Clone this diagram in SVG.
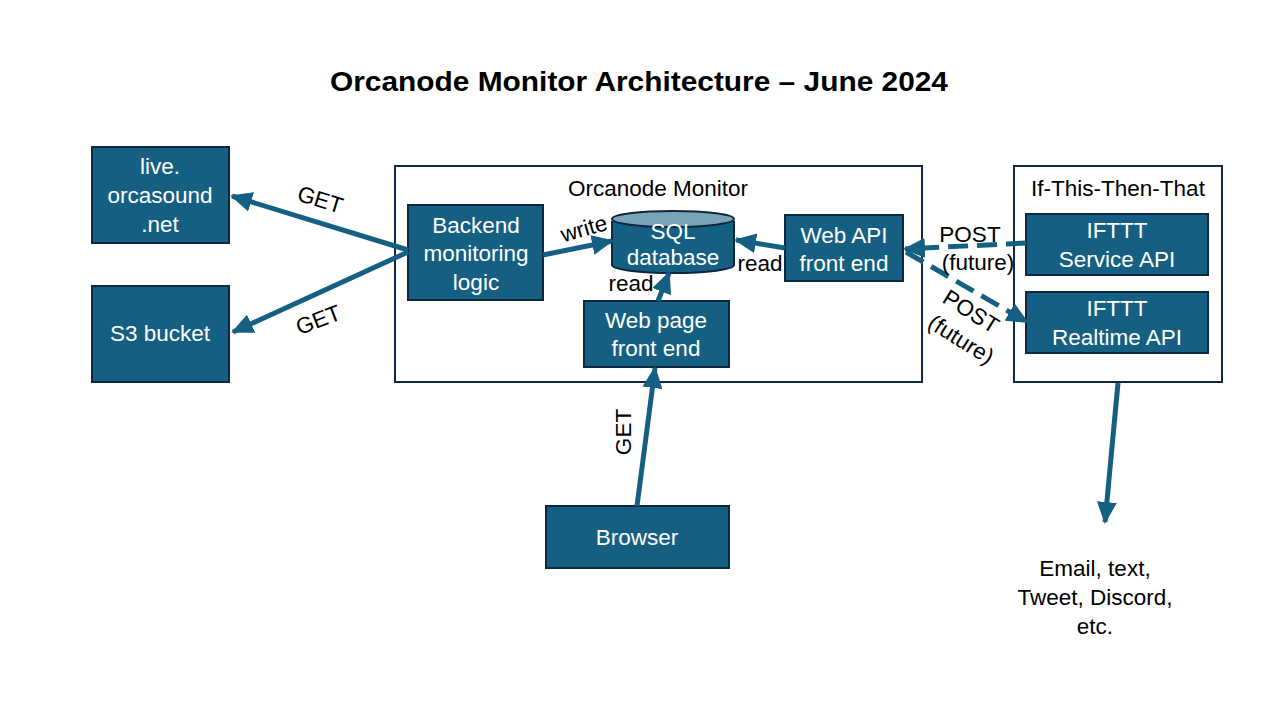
<svg xmlns="http://www.w3.org/2000/svg" width="1280" height="720" viewBox="0 0 1280 720">
<style>
.box{fill:#156082;stroke:#0E2841;stroke-width:2}
.frame{fill:#fff;stroke:#0E2841;stroke-width:2}
.t{font-family:"Liberation Sans",Arial,sans-serif;font-size:22.5px;fill:#fff;text-anchor:middle}
.lbl{font-family:"Liberation Sans",Arial,sans-serif;font-size:22.5px;fill:#000;text-anchor:middle}
.c{stroke:#156082;stroke-width:5;fill:none}
.d{stroke-dasharray:20 9}
</style>
<defs>
<marker id="ah" markerUnits="userSpaceOnUse" markerWidth="22" markerHeight="20" refX="20" refY="10" orient="auto">
<path d="M0,0 L22,10 L0,20 Z" fill="#156082"/>
</marker>
</defs>
<rect width="1280" height="720" fill="#fff"/>
<text x="639" y="91" font-family="Liberation Sans,Arial,sans-serif" font-size="28" font-weight="bold" text-anchor="middle" fill="#000" textLength="618" lengthAdjust="spacingAndGlyphs">Orcanode Monitor Architecture – June 2024</text>

<g id="orcanode-monitor">
<rect class="frame" x="395" y="166" width="527" height="216"/>
<text class="lbl" x="658" y="196">Orcanode Monitor</text>
</g>
<g id="ifttt">
<rect class="frame" x="1014" y="166" width="208" height="216"/>
<text class="lbl" x="1118" y="196">If-This-Then-That</text>
</g>

<g id="live">
<rect class="box" x="92" y="147" width="137" height="96"/>
<text class="t" x="160" y="174">live.</text>
<text class="t" x="160" y="203">orcasound</text>
<text class="t" x="160" y="232">.net</text>
</g>
<g id="s3">
<rect class="box" x="92" y="286" width="137" height="96"/>
<text class="t" x="160" y="341">S3 bucket</text>
</g>
<g id="backend">
<rect class="box" x="408" y="205" width="135" height="95"/>
<text class="t" x="476" y="233">Backend</text>
<text class="t" x="476" y="261">monitoring</text>
<text class="t" x="476" y="290">logic</text>
</g>
<g id="sql">
<path d="M612,221 L612,265 A61,8 0 0 0 734,265 L734,221" fill="#156082" stroke="#0E2841" stroke-width="2"/>
<ellipse cx="673" cy="219" rx="61" ry="8" fill="#79A3B6" stroke="#0E2841" stroke-width="2"/>
<text class="t" x="673" y="239">SQL</text>
<text class="t" x="673" y="265">database</text>
</g>
<g id="webapi">
<rect class="box" x="785" y="215" width="118" height="66"/>
<text class="t" x="844" y="243">Web API</text>
<text class="t" x="844" y="271">front end</text>
</g>
<g id="webpage">
<rect class="box" x="584" y="301" width="145" height="66"/>
<text class="t" x="656" y="328">Web page</text>
<text class="t" x="656" y="356">front end</text>
</g>
<g id="service">
<rect class="box" x="1026" y="214" width="182" height="61"/>
<text class="t" x="1117" y="238">IFTTT</text>
<text class="t" x="1117" y="267">Service API</text>
</g>
<g id="realtime">
<rect class="box" x="1026" y="292" width="182" height="61"/>
<text class="t" x="1117" y="316">IFTTT</text>
<text class="t" x="1117" y="345">Realtime API</text>
</g>
<g id="browser">
<rect class="box" x="546" y="506" width="183" height="62"/>
<text class="t" x="637" y="545">Browser</text>
</g>

<g id="connectors">
<line class="c" x1="408" y1="250" x2="232" y2="196" marker-end="url(#ah)"/>
<line class="c" x1="408" y1="252" x2="233" y2="332" marker-end="url(#ah)"/>
<line class="c" x1="543" y1="255" x2="612" y2="241" marker-end="url(#ah)"/>
<line class="c" x1="785" y1="248" x2="736" y2="240" marker-end="url(#ah)"/>
<line class="c" x1="658" y1="301" x2="669" y2="273" marker-end="url(#ah)"/>
<line class="c" x1="637" y1="506" x2="655" y2="368" marker-end="url(#ah)"/>
<line class="c d" x1="1026" y1="243" x2="905" y2="249" marker-end="url(#ah)"/>
<line class="c d" x1="906" y1="252" x2="1027" y2="322" marker-end="url(#ah)"/>
<line class="c" x1="1118" y1="383" x2="1105" y2="522" marker-end="url(#ah)"/>
</g>

<g id="labels">
<text class="lbl" transform="translate(318,207) rotate(17)">GET</text>
<text class="lbl" transform="translate(321,327) rotate(-21)">GET</text>
<text class="lbl" transform="translate(586,236) rotate(-16)">write</text>
<text class="lbl" x="760" y="271">read</text>
<text class="lbl" x="631" y="291">read</text>
<text class="lbl" transform="translate(631,432) rotate(-90)">GET</text>
<text class="lbl" x="970" y="242">POST</text>
<text class="lbl" x="978" y="270">(future)</text>
<text class="lbl" transform="translate(967,318) rotate(32)">POST</text>
<text class="lbl" transform="translate(957,346) rotate(32)">(future)</text>
<text class="lbl" x="1095" y="576">Email, text,</text>
<text class="lbl" x="1095" y="605">Tweet, Discord,</text>
<text class="lbl" x="1095" y="634">etc.</text>
</g>
</svg>
